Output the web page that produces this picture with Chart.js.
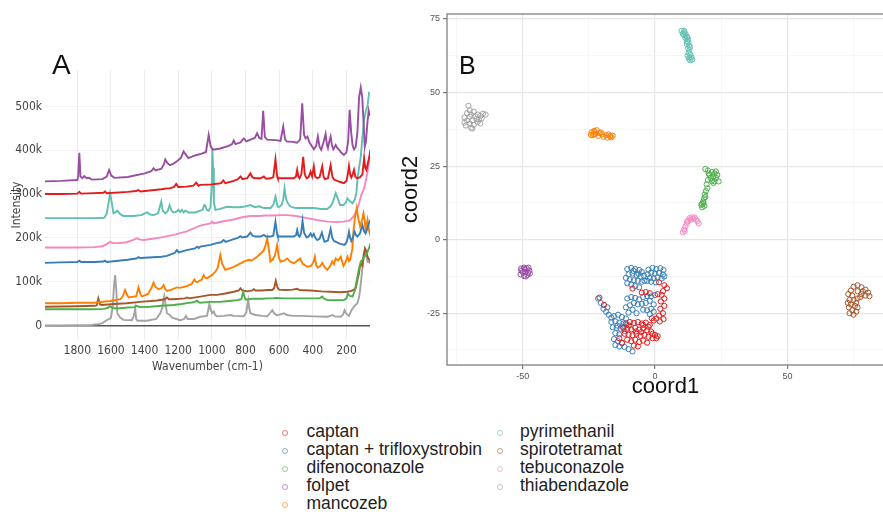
<!DOCTYPE html>
<html>
<head>
<meta charset="utf-8">
<script src="https://cdn.jsdelivr.net/npm/chart.js@4.4.1/dist/chart.umd.min.js"></script>
<style>
body{margin:0;width:883px;height:512px;overflow:hidden;background:#fff;position:relative;font-family:'Liberation Sans',Arial,sans-serif}
#wrapA{position:absolute;left:0;top:0;width:390px;height:390px}
#wrapB{position:absolute;left:395px;top:0;width:500px;height:400px}
.tag{position:absolute;line-height:1;color:#111}
#legend .dot{position:absolute;width:4px;height:4px;border-radius:50%;border:1.2px solid;opacity:.6}
#legend .lab{position:absolute;font-size:17.5px;line-height:18px;color:#222;white-space:nowrap}
</style>
</head>
<body>
<div id="wrapA"><canvas id="chartA" width="390" height="390"></canvas></div>
<div id="wrapB"><canvas id="chartB" width="500" height="400"></canvas></div>
<div class="tag" style="left:52px;top:51px;font-size:28px">A</div>
<div class="tag" style="left:459px;top:53px;font-size:25px">B</div>
<div id="legend"></div>
<script>
// compounds, same order as the legend
const compounds = ['captan', 'captan + trifloxystrobin', 'difenoconazole', 'folpet', 'mancozeb',
                   'pyrimethanil', 'spirotetramat', 'tebuconazole', 'thiabendazole'];
const colors = ['#e41a1c', '#377eb8', '#4daf4a', '#984ea3', '#ff7f00', '#5fbfb0', '#a65628', '#f488c0', '#a3a3a3'];

// panel A: Raman spectra, [wavenumber, intensity in k]
const specCaptan = [[1992,300],[1900,300],[1800,301],[1788,305],[1778,301],[1700,302],[1645,303],[1635,306],[1625,302],[1500,305],[1450,307],[1436,309],[1425,306],[1300,311],[1267,313],[1250,313],[1225,316],[1212,323],[1200,316],[1150,317],[1110,319],[1093,326],[1080,319],[1070,321],[1000,322],[960,324],[945,325],[932,331],[920,325],[870,330],[845,334],[830,340],[818,334],[790,336],[771,347],[758,338],[741,336],[710,336],[691,340],[678,335],[652,336],[635,338],[622,379],[612,340],[608,336],[560,336],[513,336],[500,340],[493,355],[486,340],[479,336],[468,345],[457,385],[448,345],[437,336],[425,338],[413,351],[404,340],[394,363],[386,340],[374,336],[360,338],[344,363],[336,340],[328,334],[310,336],[294,366],[284,340],[274,333],[240,328],[215,325],[200,330],[192,345],[185,364],[178,345],[171,338],[163,345],[155,355],[147,340],[139,336],[120,338],[105,345],[95,382],[88,360],[81,355],[72,372],[64,385],[58,401]];
const specCaptanTri = [[1992,143],[1900,144],[1800,145],[1788,148],[1778,145],[1700,145],[1645,146],[1635,148],[1625,145],[1500,150],[1450,153],[1436,156],[1425,154],[1300,157],[1267,159],[1240,163],[1220,166],[1208,172],[1198,167],[1150,172],[1100,176],[1088,180],[1078,177],[1069,180],[1009,184],[960,189],[945,190],[930,195],[918,191],[870,197],[845,200],[830,204],[818,201],[790,203],[771,212],[758,205],[741,203],[710,203],[691,207],[678,203],[652,203],[635,205],[622,237],[612,208],[608,203],[560,203],[513,203],[500,206],[493,218],[486,206],[479,203],[470,210],[461,239],[452,212],[437,201],[425,203],[413,210],[404,203],[394,209],[385,200],[374,195],[360,198],[346,212],[338,200],[330,191],[310,194],[294,220],[284,200],[274,193],[240,187],[211,184],[200,190],[192,200],[185,214],[178,200],[171,193],[163,200],[151,214],[143,206],[135,203],[120,210],[105,229],[95,215],[86,210],[75,222],[65,235],[58,241]];
const specDifeno = [[1992,37],[1800,37],[1700,37],[1643,38],[1620,40],[1605,44],[1590,40],[1565,39],[1500,41],[1460,42],[1446,45],[1430,42],[1367,43],[1300,45],[1228,47],[1180,49],[1148,51],[1110,53],[1095,55],[1088,57],[1080,54],[1069,52],[1009,54],[950,54],[900,56],[850,58],[825,60],[818,70],[814,77],[808,68],[800,59],[760,61],[700,61],[671,62],[640,62],[620,63],[571,62],[520,62],[473,62],[400,62],[360,62],[344,66],[336,62],[314,58],[250,58],[215,58],[200,62],[191,73],[182,68],[164,66],[150,80],[135,111],[125,130],[115,146],[105,150],[95,157],[85,160],[75,168],[65,178],[56,188]];
const specFolpet = [[1992,329],[1900,330],[1800,332],[1795,340],[1788,394],[1781,340],[1770,336],[1758,341],[1745,336],[1730,337],[1715,333],[1650,334],[1625,340],[1611,355],[1598,342],[1580,337],[1500,339],[1400,347],[1360,352],[1347,359],[1335,354],[1300,358],[1285,368],[1277,379],[1265,371],[1250,366],[1230,369],[1210,374],[1185,382],[1168,397],[1155,390],[1140,382],[1100,388],[1060,392],[1035,396],[1019,435],[1008,410],[995,401],[950,404],[900,410],[880,414],[870,422],[860,414],[830,418],[810,427],[795,420],[770,424],[745,428],[731,439],[718,428],[705,426],[695,490],[685,430],[671,424],[620,423],[592,421],[576,454],[565,425],[556,420],[520,419],[493,417],[475,425],[463,507],[452,435],[443,427],[432,431],[420,418],[394,402],[380,410],[370,431],[360,408],[350,401],[335,420],[324,437],[316,412],[310,405],[302,420],[294,431],[286,410],[278,402],[264,412],[255,405],[244,401],[230,394],[215,389],[200,395],[190,420],[181,492],[172,440],[163,410],[155,402],[145,408],[135,440],[125,520],[115,543],[106,520],[98,460],[91,408],[84,420],[76,460],[68,490],[60,478]];
const specMancozeb = [[1992,51],[1900,51],[1800,52],[1700,52],[1675,53],[1605,56],[1545,60],[1530,66],[1516,81],[1505,70],[1494,64],[1450,67],[1436,87],[1425,72],[1415,66],[1380,72],[1360,85],[1347,98],[1335,88],[1317,83],[1300,85],[1287,92],[1277,83],[1267,79],[1240,82],[1208,87],[1190,86],[1148,90],[1120,95],[1104,105],[1095,100],[1088,99],[1060,105],[1049,115],[1040,109],[1029,108],[1000,115],[979,123],[965,132],[950,161],[938,140],[920,127],[870,134],[830,142],[810,146],[795,148],[780,150],[765,148],[731,157],[705,166],[691,172],[680,185],[671,199],[662,175],[652,146],[640,150],[625,160],[612,184],[602,155],[592,146],[570,148],[552,153],[535,146],[513,142],[498,146],[476,153],[460,141],[433,134],[410,136],[396,145],[388,157],[380,138],[370,132],[355,136],[344,143],[330,133],[314,127],[298,135],[284,146],[274,140],[264,153],[250,148],[234,157],[218,136],[205,145],[194,157],[185,147],[178,150],[165,175],[158,218],[148,250],[139,268],[130,245],[119,226],[108,240],[99,256],[92,240],[86,218],[75,241],[65,215],[56,203]];
const specPyrimethanil = [[1992,245],[1800,245],[1700,245],[1640,246],[1625,255],[1612,285],[1605,302],[1597,285],[1585,256],[1575,258],[1562,262],[1545,254],[1526,250],[1466,250],[1420,252],[1386,258],[1365,253],[1347,252],[1320,256],[1310,270],[1301,283],[1292,262],[1277,256],[1262,262],[1251,275],[1240,262],[1228,258],[1210,260],[1198,264],[1188,259],[1178,264],[1168,258],[1158,262],[1137,258],[1100,258],[1069,262],[1055,264],[1045,275],[1039,273],[1030,264],[1019,262],[1008,270],[1000,330],[997,405],[993,360],[988,280],[979,264],[950,266],[910,271],[870,270],[830,270],[800,272],[771,275],[745,270],[721,272],[690,268],[652,268],[635,275],[622,294],[610,272],[602,270],[585,275],[575,290],[568,313],[560,290],[548,279],[535,272],[522,270],[500,268],[473,268],[433,268],[394,268],[350,266],[314,266],[295,272],[284,279],[274,290],[264,302],[252,290],[238,275],[218,275],[205,280],[194,290],[180,284],[164,279],[150,288],[140,305],[135,332],[125,360],[115,385],[105,430],[95,469],[85,490],[75,500],[66,530],[60,528]];
const specSpirotetramat = [[1992,43],[1800,44],[1700,45],[1685,46],[1675,62],[1665,48],[1654,47],[1580,49],[1506,51],[1426,54],[1327,57],[1280,60],[1267,64],[1255,60],[1228,60],[1160,62],[1148,64],[1135,62],[1069,66],[1009,70],[969,70],[920,73],[870,77],[840,80],[830,85],[820,80],[790,78],[760,80],[751,83],[740,80],[700,80],[671,81],[641,81],[630,85],[620,102],[611,88],[602,82],[560,81],[520,82],[493,84],[480,81],[413,80],[350,78],[294,77],[240,76],[194,77],[170,79],[155,82],[145,85],[135,104],[125,120],[119,138],[112,140],[105,136],[98,160],[90,176],[82,170],[75,157],[65,150],[56,146]];
const specTebuconazole = [[1992,178],[1800,178],[1700,179],[1650,181],[1620,187],[1605,191],[1590,188],[1565,188],[1530,189],[1506,190],[1470,195],[1446,199],[1425,196],[1407,195],[1350,198],[1300,201],[1228,207],[1150,215],[1069,228],[1009,233],[999,237],[990,233],[930,238],[870,242],[820,247],[771,250],[720,250],[680,251],[632,251],[590,252],[552,252],[500,250],[433,245],[380,241],[314,237],[260,236],[215,237],[180,240],[155,250],[140,262],[125,279],[110,300],[99,309],[90,320],[80,340],[70,362],[60,390]];
const specThiabendazole = [[1992,0],[1900,0],[1800,1],[1724,1],[1680,3],[1654,5],[1625,12],[1601,17],[1590,40],[1582,90],[1575,115],[1568,80],[1562,28],[1545,18],[1526,13],[1476,12],[1466,20],[1460,30],[1456,39],[1450,15],[1442,11],[1386,11],[1330,15],[1307,28],[1295,40],[1287,60],[1283,67],[1278,55],[1267,28],[1250,24],[1237,18],[1188,12],[1165,15],[1154,22],[1145,15],[1107,15],[1069,20],[1029,22],[1022,35],[1015,49],[1008,38],[999,28],[989,32],[980,24],[969,21],[930,22],[890,24],[870,22],[810,21],[795,30],[788,50],[784,58],[778,40],[771,28],[740,24],[700,22],[671,21],[655,28],[641,35],[630,28],[612,23],[590,26],[571,28],[555,24],[520,22],[473,22],[400,21],[314,20],[295,22],[284,24],[270,21],[234,20],[220,25],[211,35],[203,28],[185,22],[170,35],[155,43],[145,47],[135,51],[125,65],[119,81],[112,105],[105,134],[98,155],[90,172],[82,160],[75,146],[65,144],[56,142]];
const wnTicks = [1800, 1600, 1400, 1200, 1000, 800, 600, 400, 200];
const intensityTicks = [0, 100, 200, 300, 400, 500];

// panel B: MDS coordinates, [coord1, coord2]
const mdsCaptan = [[1.5,-14.5],[3.5,-15.5],[4.5,-16.5],[3,-17.5],[2.5,-18.8],[1,-18.5],[3.5,-20],[2.2,-21],[3.5,-22.5],[2,-23.5],[3,-25],[1.5,-25.8],[3.2,-27],[1.8,-27.8],[0.5,-26.8],[-0.5,-27.5],[-5,-18],[-3.5,-17.8],[-2,-18.2],[-8.5,-16.6],[-21,-19.7],[-19.3,-22.2],[-11,-28.5],[-9.5,-28],[-8,-28.3],[-6.5,-28],[-5,-28.5],[-3.5,-28.2],[-2,-29],[-12,-30],[-10.5,-30.3],[-9,-30.5],[-7.5,-30],[-6,-30.6],[-4.5,-30.2],[-3,-30.8],[-1.5,-31.2],[-11.5,-32],[-10,-32.3],[-8.5,-32.5],[-7,-32],[-5.5,-32.7],[-4,-32.4],[-2.5,-33],[-1,-33.5],[0.5,-33.5],[-10.5,-34],[-9,-34.5],[-7.5,-34],[-6,-34.8],[-4.5,-34.3],[-3,-35],[-8,-36],[-6.5,-36.3],[-13.5,-33.5],[-12.5,-35],[-4.5,-29],[-1,-32],[1,-32.8],[-9.8,-29.2],[-7.2,-31.2],[-5.2,-31.4],[-1.2,-26.7],[-2.5,-29.6],[0,-32.4]];
const mdsCaptanTri = [[-10.5,-10],[-9,-9.6],[-7.5,-10],[-6,-10.3],[-5,-11],[-4.2,-12.2],[-5.5,-12.5],[-7,-12],[-8.5,-11.5],[-10,-11.8],[-11,-13],[-9.5,-13.5],[-8,-13.8],[-6.5,-14],[-5,-14.3],[-4,-14],[-10.5,-14.8],[-9,-15.3],[-7.5,-15.8],[-6,-16.2],[-8.2,-10.6],[-6.2,-11.6],[-2.5,-10.2],[-1,-9.6],[0.5,-10],[2,-9.7],[3.2,-10.3],[-2.8,-11.8],[-1.5,-11.2],[0,-11.5],[1.5,-11.3],[3,-11.8],[-2,-13],[-0.5,-13.2],[1,-12.8],[2.5,-13.2],[-1.5,-14.3],[0.3,-14.5],[3.5,-12.5],[-3,-14],[-10.5,-20],[-9,-19.5],[-7.5,-19.8],[-6,-20.3],[-4.5,-19.5],[-3,-19.2],[-1.5,-19.3],[0,-18.8],[-2,-20.8],[-3.5,-21.5],[-5,-21.8],[-6.5,-22],[-8,-21.5],[-9.5,-22.3],[-11,-23],[-0.5,-22],[-1.5,-23.5],[-3,-24],[-4.5,-23.8],[-8.5,-23.8],[-10,-24.8],[-7,-25],[-2,-25.3],[-0.5,-24.5],[-21.5,-20],[-20.5,-21.5],[-19.5,-23.5],[-18.5,-24.5],[-17.5,-25.5],[-16.5,-26.5],[-18,-23],[-15.5,-26],[-14,-25.5],[-12.5,-26.3],[-11,-26.8],[-16.5,-28],[-15,-27.8],[-13.5,-28.2],[-12,-28.5],[-10.8,-29],[-16,-29.8],[-14.5,-30],[-13,-30.3],[-11.5,-31],[-15,-31.8],[-13.5,-32.2],[-12,-29.7],[-14.2,-29.2],[-15.5,-33.8],[-14,-34.5],[-12.5,-35.2],[-15,-35.8],[-13.5,-36.3],[-10,-37.2],[-8.5,-38],[-11.5,-36.5]];
const mdsDifeno = [[19,24],[20,23.5],[21.5,23],[22.5,22.5],[23.5,22],[20.5,22],[22,21.5],[21,21],[23,21],[24,19.8],[22.5,19.8],[21.5,20],[20,20.3],[19.5,18.8],[19.8,17.5],[19.2,16.5],[18.8,15.3],[18.5,14],[18.2,13],[17.7,12.2],[18.6,11.5],[17.8,11],[18.3,12.5],[19,14.5],[20.3,22.5],[23,23.2],[22,19.3],[17.5,11.8]];
const mdsFolpet = [[-50.5,-10.5],[-49.5,-9.5],[-48.5,-9.8],[-47.5,-10.5],[-47.3,-11.5],[-48.2,-12],[-49.5,-12.3],[-50.8,-11.8],[-49,-11],[-48,-11.2],[-50,-11],[-49.2,-10],[-48.8,-12.5],[-47.8,-9.5],[-50.6,-9.8]];
const mdsMancozeb = [[-24,36.5],[-23,37],[-22.5,36],[-23.5,35.5],[-22,37.2],[-21,36.2],[-21.5,35.3],[-20,35.8],[-19.5,35],[-18.5,35.5],[-18,34.7],[-17,35.2],[-16.5,34.8],[-17.5,35.8],[-23,35.8],[-24.2,35.6],[-22.8,36.8],[-20.5,36.4],[-16,35.3]];
const mdsPyrimethanil = [[10,71],[11,71],[10.5,70],[11.5,70],[11,69.5],[12,69],[11.5,68.5],[12.5,68],[12,67.5],[12,66.5],[12.8,66],[12.5,65],[13,64.5],[12.7,63.5],[13.3,63],[13,62],[13.8,62],[12.8,61.5],[14,61.2],[13.3,61],[11,70.5],[12.2,68.8],[12.6,67],[13.2,65.5],[12.3,62.5]];
const mdsSpirotetramat = [[75,-16],[76.5,-15.5],[78,-16.2],[79.5,-17],[80.5,-18],[81,-19.2],[79.5,-19],[78,-18.5],[76.5,-17.5],[74,-17.3],[73,-18.5],[74.5,-19],[73.5,-20.5],[75,-20.5],[76.5,-20],[74,-22],[75.5,-22.5],[73.2,-23],[74.5,-24],[76,-24.5],[75,-25.5],[73.5,-25],[76.5,-23],[77.5,-19.5],[72.8,-21.5],[78.5,-17.5],[76,-21.5]];
const mdsTebuconazole = [[10.5,2.5],[11,3.5],[11.5,4.5],[12,5.5],[12.5,6.5],[13,7.3],[14,7.6],[15,7.5],[15.5,6.8],[16.5,5.5],[13.5,6.8],[14.5,7],[11.2,3],[12.2,6.2],[16,6.3]];
const mdsThiabendazole = [[-70.5,45.5],[-70,44],[-71,43],[-69.5,42.5],[-68,42],[-67,42.5],[-66,42],[-65,42.8],[-64,42.5],[-65.5,41.2],[-67.5,41],[-69,40.5],[-71,40.5],[-72,41.5],[-70,39.5],[-68.5,39],[-71.5,38.8],[-69.5,38],[-67,40],[-66.5,40.8],[-70,41.8],[-68.5,43.5],[-66,39.5],[-72,39.8],[-69,37.8]];
const coordTicksX = [-75, -50, -25, 0, 25, 50, 75];
const coordTicksY = [-37.5, -25, -12.5, 0, 12.5, 25, 37.5, 50, 62.5, 75];

const spectra = [specCaptan, specCaptanTri, specDifeno, specFolpet, specMancozeb,
                 specPyrimethanil, specSpirotetramat, specTebuconazole, specThiabendazole];
const mds = [mdsCaptan, mdsCaptanTri, mdsDifeno, mdsFolpet, mdsMancozeb,
             mdsPyrimethanil, mdsSpirotetramat, mdsTebuconazole, mdsThiabendazole];

const narrow = "'Liberation Sans Narrow', 'DejaVu Sans Condensed', sans-serif";
const toXY = arr => arr.map(p => ({x: p[0], y: p[1]}));

// PANEL A
new Chart(document.getElementById('chartA'), {
  type: 'line',
  data: {
    datasets: spectra.map((s, i) => ({
      label: compounds[i], data: toXY(s), borderColor: colors[i], borderWidth: 1.9,
      pointRadius: 0, tension: 0, fill: false
    }))
  },
  options: {
    responsive: false, animation: false,
    layout: {padding: {left: 0, top: 70, right: 20, bottom: 0}},
    plugins: {legend: {display: false}, tooltip: {enabled: false}},
    scales: {
      x: {
        type: 'linear', reverse: true, min: 60, max: 1992,
        afterBuildTicks: s => { s.ticks = wnTicks.map(v => ({value: v})); },
        afterFit: s => { s.height = 50; },
        grid: {color: '#ececec', drawTicks: false},
        border: {display: false},
        ticks: {padding: 4, color: '#444', autoSkip: false, maxRotation: 0, font: {family: narrow, size: 12},
                callback: v => String(v)},
        title: {display: true, text: 'Wavenumber (cm-1)', color: '#444', font: {family: narrow, size: 12}, padding: {top: 0, bottom: 16}}
      },
      y: {
        min: -33, max: 583,
        afterBuildTicks: s => { s.ticks = intensityTicks.map(v => ({value: v})); },
        afterFit: s => { s.width = 45; },
        grid: {
          color: c => c.tick && c.tick.value === 0 ? '#555' : '#f3f3f3',
          lineWidth: c => c.tick && c.tick.value === 0 ? 1.5 : 1,
          drawTicks: false
        },
        border: {display: false},
        ticks: {padding: 3, color: '#444', font: {family: narrow, size: 12}, callback: v => v === 0 ? '0' : v + 'k'},
        title: {display: true, text: 'Intensity', color: '#444', font: {family: narrow, size: 12}, padding: {top: 10, bottom: 0}}
      }
    }
  }
});

// PANEL B
const boxBorder = {
  id: 'boxBorder',
  afterDraw(chart) {
    const {ctx, chartArea: a} = chart;
    ctx.save();
    ctx.strokeStyle = '#808080';
    ctx.lineWidth = 1.3;
    ctx.strokeRect(a.left, a.top, a.right - a.left, a.bottom - a.top);
    ctx.restore();
  }
};
const isMajor = (v, step) => Math.abs(v / step - Math.round(v / step)) < 1e-6;

new Chart(document.getElementById('chartB'), {
  type: 'scatter',
  data: {
    datasets: mds.map((s, i) => ({
      label: compounds[i], data: toXY(s), borderColor: colors[i], backgroundColor: 'rgba(0,0,0,0)',
      borderWidth: 1, pointRadius: 2.6
    }))
  },
  options: {
    responsive: false, animation: false,
    layout: {padding: {left: 0, top: 14, right: 11, bottom: 0}},
    plugins: {legend: {display: false}, tooltip: {enabled: false}},
    scales: {
      x: {
        min: -78.6, max: 86.5,
        afterBuildTicks: s => { s.ticks = coordTicksX.map(v => ({value: v})); },
        afterFit: s => { s.height = 35; },
        grid: {
          color: c => isMajor(c.tick.value, 50) ? '#e6e6e6' : '#f2f2f2',
          lineWidth: c => isMajor(c.tick.value, 50) ? 1.2 : 0.6,
          tickLength: 4,
          tickColor: c => isMajor(c.tick.value, 50) ? '#777' : 'rgba(0,0,0,0)'
        },
        border: {display: false},
        ticks: {padding: 2, color: '#555', autoSkip: false, maxRotation: 0, font: {size: 9},
                callback: v => isMajor(v, 50) ? v : ''},
        title: {display: true, text: 'coord1', color: '#111', font: {size: 22}, padding: 0}
      },
      y: {
        min: -42.6, max: 76.7,
        afterBuildTicks: s => { s.ticks = coordTicksY.map(v => ({value: v})); },
        afterFit: s => { s.width = 52; },
        grid: {
          color: c => isMajor(c.tick.value, 25) ? '#e6e6e6' : '#f2f2f2',
          lineWidth: c => isMajor(c.tick.value, 25) ? 1.2 : 0.6,
          tickLength: 4,
          tickColor: c => isMajor(c.tick.value, 25) ? '#777' : 'rgba(0,0,0,0)'
        },
        border: {display: false},
        ticks: {padding: 3, color: '#555', autoSkip: false, font: {size: 9},
                callback: v => isMajor(v, 25) ? v : ''},
        title: {display: true, text: 'coord2', color: '#111', font: {size: 22}, padding: {top: 3, bottom: 0}}
      }
    }
  },
  plugins: [boxBorder]
});

// legend under the panels, two columns
const legend = document.getElementById('legend');
compounds.forEach((name, i) => {
  const col = i < 5 ? 0 : 1;
  const row = i < 5 ? i : i - 5;
  const y = 422 + row * 18.1;
  const dot = document.createElement('div');
  dot.className = 'dot';
  dot.style.borderColor = colors[i];
  dot.style.left = (col ? 497 : 282) + 'px';
  dot.style.top = (y + 8) + 'px';
  const lab = document.createElement('div');
  lab.className = 'lab';
  lab.textContent = name;
  lab.style.left = (col ? 520 : 306.5) + 'px';
  lab.style.top = y + 'px';
  legend.append(dot, lab);
});
</script>
</body>
</html>
